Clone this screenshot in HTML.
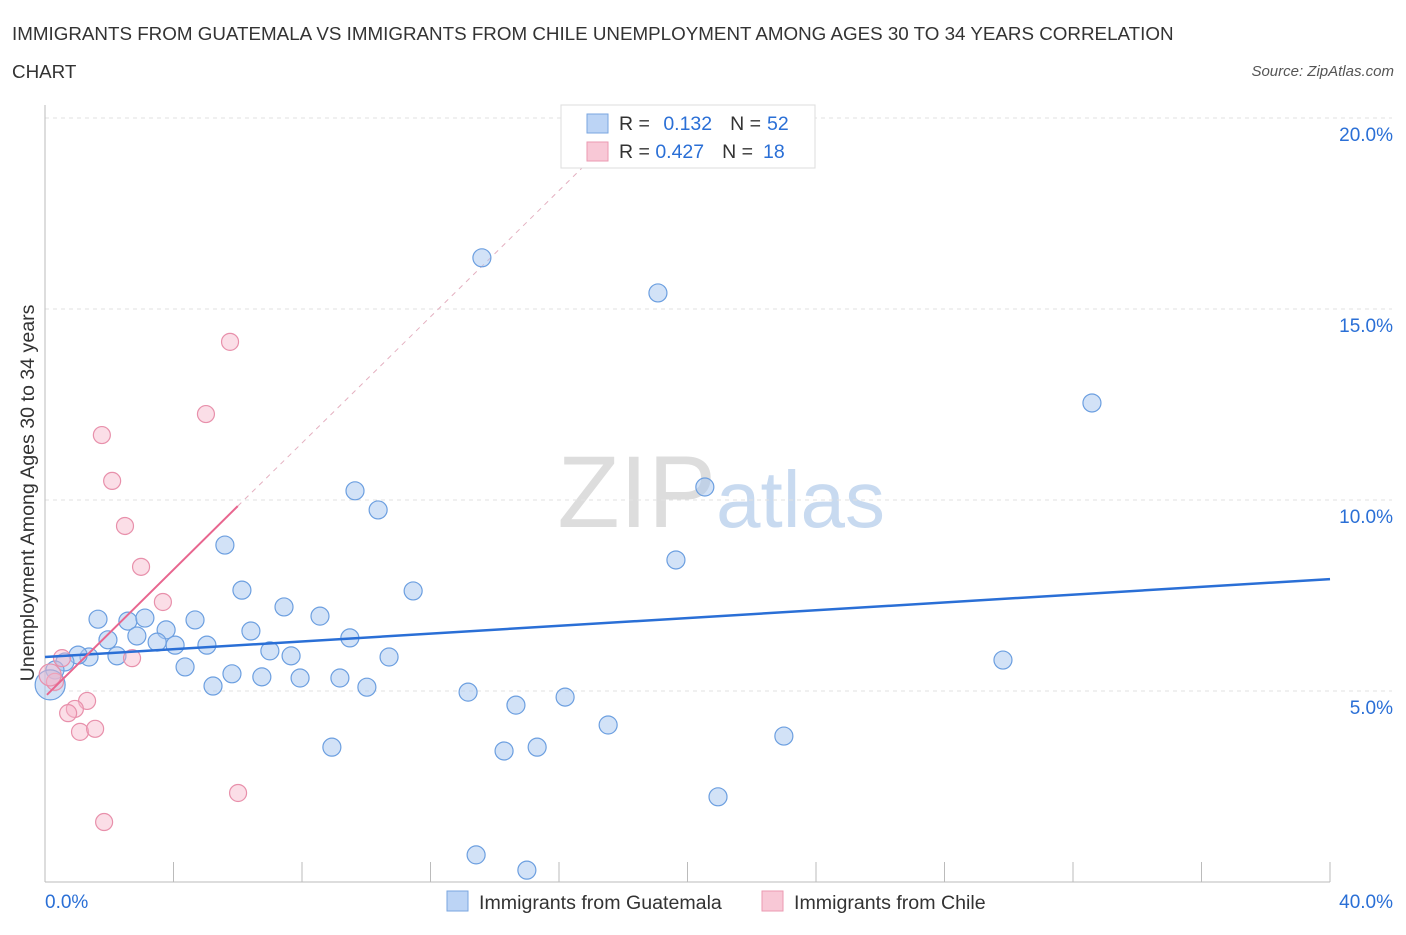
<!DOCTYPE html>
<html><head><meta charset="utf-8"><style>
body{margin:0;background:#fff;font-family:"Liberation Sans",sans-serif}
svg text{font-family:"Liberation Sans",sans-serif}
</style></head><body>
<svg width="1406" height="930" id="c">
<text x="12" y="40" font-size="18.8" fill="#333">IMMIGRANTS FROM GUATEMALA VS IMMIGRANTS FROM CHILE UNEMPLOYMENT AMONG AGES 30 TO 34 YEARS CORRELATION</text>
<text x="12" y="78" font-size="18.8" fill="#333">CHART</text>
<text x="1394" y="76" font-size="15" fill="#555" font-style="italic" text-anchor="end">Source: ZipAtlas.com</text>
<text x="716" y="527" font-size="102" fill="#ddd" font-family="Liberation Serif" text-anchor="end">ZIP</text>
<text x="716" y="527" font-size="80" fill="#c8daf0">atlas</text>
<text transform="translate(34,493) rotate(-90)" font-size="19.6" fill="#333" text-anchor="middle">Unemployment Among Ages 30 to 34 years</text>
<g id="grid"></g><g id="marks"></g>
<g>
<rect x="561" y="105" width="254" height="63" fill="#fff" stroke="#ddd"/>
<rect x="587" y="114" width="21" height="19" fill="#bcd4f5" stroke="#7aa6e0"/>
<rect x="587" y="142" width="21" height="19" fill="#f8c8d6" stroke="#eb9ab2"/>
<text x="619" y="130" font-size="19.5" fill="#333">R = <tspan fill="#2a6fd6" dx="8">0.132</tspan><tspan dx="18" fill="#333">N =</tspan><tspan fill="#2a6fd6" dx="6">52</tspan></text>
<text x="619" y="158" font-size="19.5" fill="#333">R = <tspan fill="#2a6fd6">0.427</tspan><tspan dx="18" fill="#333">N =</tspan><tspan fill="#2a6fd6" dx="10">18</tspan></text>
</g>
<g>
<rect x="447" y="891" width="21" height="20" fill="#bcd4f5" stroke="#7aa6e0"/>
<text x="479" y="909" font-size="19.6" fill="#333">Immigrants from Guatemala</text>
<rect x="762" y="891" width="21" height="20" fill="#f8c8d6" stroke="#eb9ab2"/>
<text x="794" y="909" font-size="19.6" fill="#333">Immigrants from Chile</text>
</g>
</svg>
<script>
const xTicks=[0,4,8,12,16,20,24,28,32,36,40];
const yTicks=[5,10,15,20];
const yTickLabels=["5.0%","10.0%","15.0%","20.0%"];
const blueX=[13.60,19.08,32.59,9.65,10.37,20.54,5.60,19.64,6.13,11.46,7.44,8.56,1.65,2.58,3.11,4.67,3.77,6.41,2.86,9.49,1.96,3.49,4.05,5.04,7.00,7.66,1.37,2.24,1.03,10.71,29.82,4.36,5.82,6.75,7.94,9.18,5.23,10.02,13.17,16.19,14.66,17.53,23.00,8.93,15.32,14.29,20.95,13.42,15.00,0.62,0.31,0.16];
const blueY=[16.34,15.42,12.54,10.24,9.74,10.34,8.82,8.43,7.64,7.62,7.20,6.96,6.88,6.83,6.91,6.86,6.60,6.57,6.44,6.39,6.34,6.28,6.20,6.20,6.05,5.92,5.89,5.92,5.94,5.89,5.81,5.63,5.45,5.37,5.34,5.34,5.13,5.10,4.97,4.84,4.63,4.11,3.82,3.53,3.53,3.43,2.23,0.71,0.31,5.76,5.55,5.16];
const pinkX=[5.76,5.01,1.77,2.09,2.49,2.99,3.67,2.71,0.53,0.31,1.31,0.93,0.72,1.09,1.56,6.01,1.84,0.16];
const pinkY=[14.14,12.25,11.70,10.50,9.32,8.25,7.33,5.86,5.86,5.24,4.74,4.53,4.42,3.93,4.01,2.33,1.57,5.42];
const blueTrend=[[0,5.89],[40,7.93]];
const pinkTrend=[[0.06,4.90],[6.0,9.84]];
const pinkDash=[[6.0,9.84],[18.3,20]];
const X=v=>45+v/40*1285, Y=v=>882-v*38.2;
const NS="http://www.w3.org/2000/svg";
function mk(p,t,a){const e=document.createElementNS(NS,t);for(const k in a)e.setAttribute(k,a[k]);p.appendChild(e);return e;}
const g=document.getElementById('grid'),m=document.getElementById('marks');
yTicks.forEach((v,i)=>{
 const l=mk(g,'line',{x1:45,x2:1392,y1:Y(v),y2:Y(v),stroke:'#e2e2e2','stroke-dasharray':'4,4'});
 
 
 const t=mk(g,'text',{x:1393,y:Y(v)+23,'font-size':19,fill:'#2a6fd6','text-anchor':'end'});t.textContent=yTickLabels[i];
 
 
});
mk(g,'line',{x1:45,x2:45,y1:105,y2:882,stroke:'#bbb'});
mk(g,'line',{x1:45,x2:1330,y1:882,y2:882,stroke:'#bbb'});
xTicks.forEach(v=>{const l=mk(g,'line',{x1:X(v),x2:X(v),y1:862,y2:882,stroke:'#bbb'});
 
 });
let t=mk(g,'text',{x:45,y:908,'font-size':19,fill:'#2a6fd6'});t.textContent='0.0%';


t=mk(g,'text',{x:1393,y:908,'font-size':19,fill:'#2a6fd6','text-anchor':'end'});t.textContent='40.0%';


let d=mk(m,'line',{x1:X(pinkDash[0][0]),y1:Y(pinkDash[0][1]),x2:X(pinkDash[1][0]),y2:Y(pinkDash[1][1]),stroke:'#e4b0c0','stroke-dasharray':'5,5','stroke-width':1});


blueX.forEach((x,i)=>{const c=mk(m,'circle',{cx:X(x),cy:Y(blueY[i]),r:i==51?15:9,fill:'rgba(165,198,240,0.5)',stroke:'#6c9fe0','stroke-width':1.2});
 
 });
pinkX.forEach((x,i)=>{const c=mk(m,'circle',{cx:X(x),cy:Y(pinkY[i]),r:i==17?11:8.5,fill:'rgba(246,182,202,0.45)',stroke:'#e890ab','stroke-width':1.2});
 
 });
let l=mk(m,'line',{x1:X(blueTrend[0][0]),y1:Y(blueTrend[0][1]),x2:X(blueTrend[1][0]),y2:Y(blueTrend[1][1]),stroke:'#2a6fd6','stroke-width':2.5});


l=mk(m,'line',{x1:X(pinkTrend[0][0]),y1:Y(pinkTrend[0][1]),x2:X(pinkTrend[1][0]),y2:Y(pinkTrend[1][1]),stroke:'#e8668f','stroke-width':2});


</script>
</body></html>
